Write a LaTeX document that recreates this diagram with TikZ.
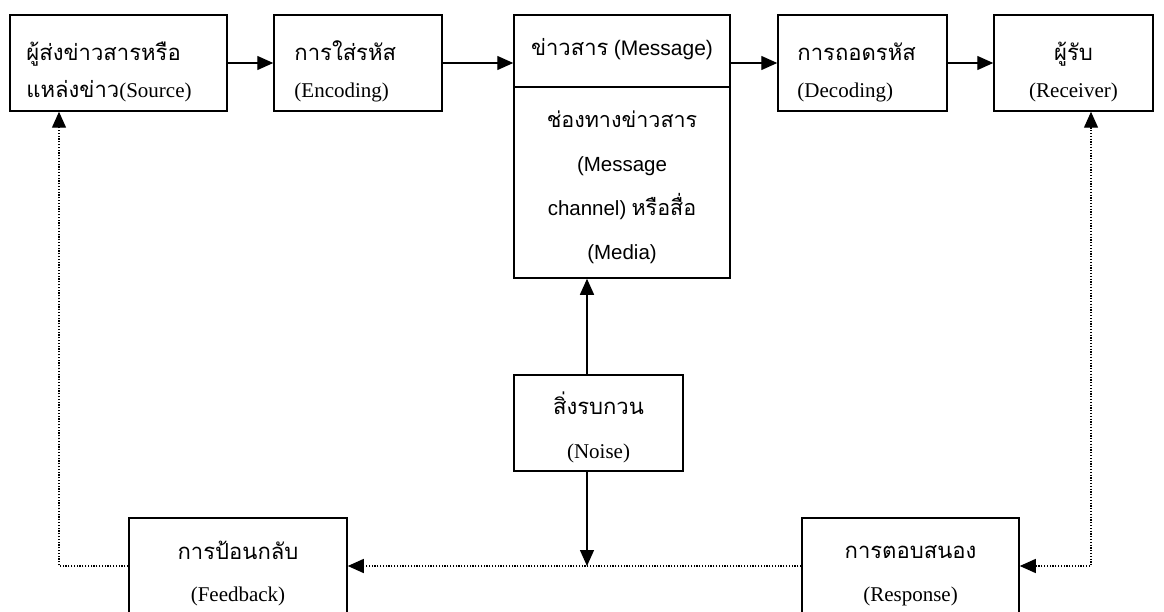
\documentclass[tikz,border=0pt]{standalone}
\usepackage{fontspec}
\setmainfont{Liberation Serif}
\newfontfamily\thaifont[Script=Thai,Scale=1.05]{Loma}
\newfontfamily\chanfont{Liberation Sans}
\usetikzlibrary{arrows.meta,calc}

\begin{document}
\begin{tikzpicture}[x=1pt, y=-1pt,
		box/.style={draw, line width=1.5pt, inner sep=0pt},
		txt/.style={inner sep=0pt, font=\fontsize{21}{37}\selectfont},
		flow/.style={line width=1.4pt, -{Triangle[length=16pt, width=14pt]}},
		dotline/.style={line width=1.3pt, dash pattern=on 1.2pt off 1.6pt}]
	\useasboundingbox (0,0) rectangle (1164,612);
	
	% กล่องแถวบน
	\node[box, minimum width=217, minimum height=96] (src) at (118.5, 63) {};
	\node[box, minimum width=168, minimum height=96] (enc) at (358, 63) {};
	\node[box, minimum width=216, minimum height=72] (msg) at (622, 51) {};
	\node[box, minimum width=216, minimum height=191] (chan) at (622, 182.5) {};
	\node[box, minimum width=169, minimum height=96] (dec) at (862.5, 63) {};
	\node[box, minimum width=159, minimum height=96] (rec) at (1073.5, 63) {};
	
	% กล่องด้านล่าง
	\node[box, minimum width=169, minimum height=96] (noise) at (598.5, 423) {};
	\node[box, minimum width=218, minimum height=96] (feed) at (238, 566) {};
	\node[box, minimum width=217, minimum height=96] (resp) at (910.5, 566) {};
	
	% ข้อความ (base = บรรทัดสุดท้าย)
	\node[txt, anchor=base west, align=left] (src-t) at ($(src.north west)+(17,83)$)
		{{\thaifont ผู้ส่งข่าวสารหรือ}\\{\thaifont แหล่งข่าว}(Source)};
	\node[txt, anchor=base west, align=left] (enc-t) at ($(enc.north west)+(21,83)$)
		{{\thaifont การใส่รหัส}\\(Encoding)};
	\node[txt, anchor=base] (msg-t) at ($(msg.north)+(0,41)$)
		{{\thaifont ข่าวสาร} {\chanfont (Message)}};
	\node[txt, anchor=base, align=center, font=\fontsize{20.5}{44}\selectfont] (chan-t) at ($(chan.north)+(0,173)$)
		{{\thaifont ช่องทางข่าวสาร}\\{\chanfont (Message}\\{\chanfont channel)} {\thaifont หรือสื่อ}\\{\chanfont (Media)}};
	\node[txt, anchor=base west, align=left] (dec-t) at ($(dec.north west)+(20,83)$)
		{{\thaifont การถอดรหัส}\\(Decoding)};
	\node[txt, anchor=base, align=center] (rec-t) at ($(rec.north)+(0,83)$)
		{{\thaifont ผู้รับ}\\(Receiver)};
	\node[txt, anchor=base, align=center, font=\fontsize{21}{44}\selectfont] (noise-t) at ($(noise.north)+(0,84)$)
		{{\thaifont สิ่งรบกวน}\\(Noise)};
	\node[txt, anchor=base, align=center, font=\fontsize{21}{42}\selectfont] (feed-t) at ($(feed.north)+(0,84)$)
		{{\thaifont การป้อนกลับ}\\(Feedback)};
	\node[txt, anchor=base, align=center, font=\fontsize{21}{43}\selectfont] (resp-t) at ($(resp.north)+(0,84)$)
		{{\thaifont การตอบสนอง}\\(Response)};
	
	% จุดเลี้ยวของเส้น
	\coordinate (nz) at (587, 566);
	\coordinate (rx) at (1091, 566);
	\coordinate (sx) at (59, 566);
	
	% ลูกศรทึบ
	\draw[flow] (src) -- (enc);
	\draw[flow] (enc.east) -- (enc.east -| msg.west);
	\draw[flow] (enc.east -| msg.east) -- (dec.west);
	\draw[flow] (dec) -- (rec);
	\draw[flow] (nz |- noise.north) -- (nz |- chan.south);
	\draw[flow] (nz |- noise.south) -- (nz);
	
	% เส้นประป้อนกลับ
	\draw[dotline, {Triangle[length=16pt, width=14pt]}-{Triangle[length=16pt, width=14pt]}] (rx |- rec.south) -- (rx) -- (resp.east);
	\draw[dotline, -{Triangle[length=16pt, width=14pt]}] (resp.west) -- (feed.east);
	\draw[dotline, -{Triangle[length=16pt, width=14pt]}] (feed.west) -- (sx) -- (sx |- src.south);
\end{tikzpicture}
\end{document}
